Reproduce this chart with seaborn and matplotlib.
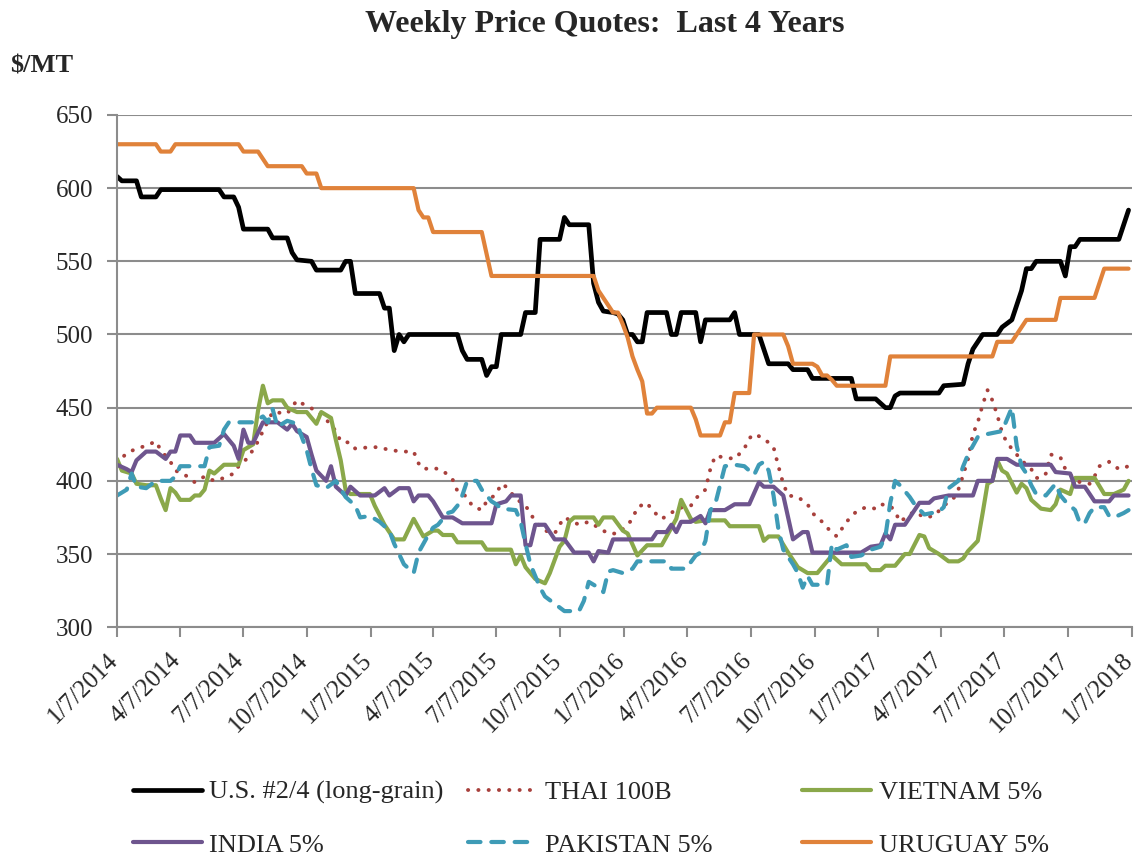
import matplotlib.pyplot as plt
import matplotlib.transforms as mtransforms
import numpy as np
import pandas as pd
import seaborn as sns

# weekly quotes, week 0 = 1/7/2014; only the weeks where the line bends are listed
start = pd.Timestamp("2014-01-07")

us_weeks = [0, 1, 4, 5, 8, 9, 21, 22, 24, 25, 26, 31, 32, 35, 36, 37, 40, 41, 46, 47, 48, 49,
            54, 55, 56, 57, 58, 59, 60, 70, 71, 72, 75, 76, 77, 78, 79, 83, 84, 86, 87, 91, 92,
            93, 97, 98, 99, 100, 102, 103, 104, 105, 106, 107, 108, 109, 113, 114, 115, 116,
            119, 120, 121, 126, 127, 128, 132, 133, 134, 138, 139, 142, 143, 151, 152, 156,
            157, 158, 159, 160, 161, 169, 170, 174, 175, 176, 177, 178, 181, 182, 184, 186,
            187, 188, 189, 194, 195, 196, 197, 198, 206, 207, 208]
us_price = [608, 605, 605, 594, 594, 599, 599, 594, 594, 587, 572, 572, 566, 566, 556, 551, 550,
            544, 544, 550, 550, 528, 528, 518, 518, 489, 500, 495, 500, 500, 489, 483, 483, 472,
            478, 478, 500, 500, 515, 515, 565, 565, 580, 575, 575, 535, 522, 516, 515, 514, 510,
            500, 500, 495, 495, 515, 515, 500, 500, 515, 515, 495, 510, 510, 515, 500, 500, 490,
            480, 480, 476, 476, 470, 470, 456, 456, 453, 450, 450, 458, 460, 460, 465, 466, 480,
            490, 495, 500, 500, 505, 510, 530, 545, 545, 550, 550, 540, 560, 560, 565, 565, 575,
            585]

thai_weeks = [0, 2, 4, 6, 8, 9, 11, 12, 14, 16, 18, 20, 22, 24, 25, 27, 29, 30, 32, 35, 37, 39,
              41, 43, 45, 46, 48, 49, 52, 54, 56, 59, 61, 62, 63, 65, 67, 69, 70, 72, 73, 75, 76,
              78, 79, 80, 82, 84, 85, 86, 88, 90, 91, 92, 95, 97, 98, 101, 103, 105, 106, 107,
              109, 110, 112, 114, 115, 118, 119, 121, 122, 123, 125, 127, 129, 130, 131, 133,
              135, 136, 137, 138, 140, 142, 143, 145, 146, 148, 149, 150, 152, 154, 156, 157,
              159, 160, 161, 163, 164, 166, 168, 170, 172, 173, 174, 175, 176, 177, 178, 179,
              180, 181, 182, 183, 185, 186, 188, 189, 190, 191, 192, 194, 195, 196, 198, 200,
              201, 202, 204, 206, 208]
thai_price = [412, 419, 422, 424, 427, 421, 413, 407, 404, 399, 403, 400, 402, 405, 410, 416, 427,
              434, 447, 446, 455, 451, 448, 442, 434, 427, 426, 422, 423, 423, 421, 420, 420, 412,
              408, 409, 407, 401, 393, 389, 383, 380, 386, 391, 398, 396, 388, 383, 378, 372, 366,
              364, 370, 375, 370, 372, 370, 364, 364, 370, 374, 382, 385, 380, 374, 378, 381, 383,
              388, 394, 408, 417, 416, 415, 422, 429, 432, 429, 423, 410, 398, 390, 389, 384, 378,
              372, 368, 362, 367, 372, 379, 382, 381, 384, 383, 379, 372, 377, 379, 375, 376, 383,
              388, 394, 404, 415, 432, 440, 452, 462, 455, 445, 433, 426, 418, 414, 408, 402, 402,
              405, 418, 416, 408, 404, 399, 398, 403, 410, 413, 408, 410]

vietnam_weeks = [0, 1, 3, 4, 6, 8, 9, 10, 11, 12, 13, 15, 16, 17, 18, 19, 20, 21, 22, 25, 26, 28,
                 29, 30, 31, 32, 34, 35, 37, 39, 41, 42, 44, 45, 46, 47, 48, 52, 53, 55, 56, 57,
                 59, 61, 63, 65, 66, 67, 69, 70, 75, 76, 81, 82, 83, 84, 86, 88, 89, 91, 92, 93,
                 94, 98, 99, 100, 102, 104, 105, 107, 109, 112, 113, 115, 116, 118, 119, 121, 125,
                 126, 132, 133, 134, 136, 138, 140, 142, 144, 145, 147, 149, 154, 155, 157, 158,
                 160, 162, 163, 165, 166, 167, 169, 171, 173, 174, 175, 177, 178, 179, 180, 181,
                 182, 183, 185, 186, 187, 188, 190, 192, 193, 194, 196, 197, 201, 203, 205, 207,
                 208]
vietnam_price = [415, 407, 405, 398, 397, 397, 388, 380, 395, 392, 387, 387, 390, 390, 394, 407,
                 405, 408, 411, 411, 421, 425, 448, 465, 453, 455, 455, 450, 447, 447, 439, 447,
                 443, 428, 414, 394, 391, 391, 383, 370, 365, 360, 360, 374, 362, 366, 366, 363,
                 363, 358, 358, 353, 353, 343, 349, 341, 333, 330, 337, 355, 359, 372, 375, 375,
                 370, 375, 375, 366, 364, 349, 356, 356, 362, 374, 387, 374, 372, 373, 373, 369,
                 369, 359, 362, 362, 351, 341, 337, 337, 341, 349, 343, 343, 339, 339, 342, 342,
                 350, 350, 363, 362, 354, 350, 345, 345, 347, 352, 359, 378, 398, 400, 414, 407,
                 405, 392, 398, 395, 387, 381, 380, 384, 394, 391, 402, 402, 391, 391, 394, 400]

india_weeks = [0, 2, 3, 4, 6, 8, 10, 11, 12, 13, 15, 16, 20, 22, 24, 25, 26, 27, 28, 30, 33, 35,
               36, 37, 39, 40, 41, 43, 44, 45, 47, 48, 50, 53, 55, 56, 58, 60, 61, 62, 64, 65,
               67, 69, 71, 77, 78, 80, 81, 83, 84, 85, 86, 88, 90, 92, 94, 97, 98, 99, 101, 102,
               110, 111, 113, 114, 115, 116, 118, 120, 121, 122, 125, 127, 130, 132, 133, 135,
               137, 138, 139, 141, 142, 143, 153, 155, 157, 158, 159, 160, 162, 164, 165, 167,
               168, 171, 176, 177, 180, 181, 183, 185, 192, 193, 196, 197, 199, 201, 204, 205,
               208]
india_price = [411, 408, 406, 414, 420, 420, 415, 420, 420, 431, 431, 426, 426, 432, 424, 415,
               435, 426, 426, 440, 440, 435, 439, 434, 430, 418, 407, 400, 410, 396, 390, 396,
               390, 390, 395, 390, 395, 395, 386, 390, 390, 386, 375, 375, 371, 371, 384, 386,
               390, 390, 356, 356, 370, 370, 360, 360, 351, 351, 345, 352, 351, 360, 360, 365,
               365, 370, 365, 372, 372, 376, 371, 380, 380, 384, 384, 399, 396, 396, 390, 375,
               360, 365, 365, 351, 351, 355, 356, 364, 360, 370, 370, 380, 385, 385, 388, 390,
               390, 400, 400, 415, 415, 411, 411, 406, 405, 396, 396, 386, 386, 390, 390]

pakistan_weeks = [0, 2, 3, 4, 6, 8, 11, 12, 13, 18, 19, 21, 22, 23, 28, 30, 31, 32, 33, 35, 37,
                  39, 40, 41, 43, 45, 47, 49, 50, 52, 54, 56, 57, 59, 61, 62, 64, 65, 66, 68, 69,
                  70, 71, 72, 74, 75, 77, 78, 79, 82, 83, 84, 85, 86, 87, 88, 90, 92, 95, 96, 97,
                  99, 100, 101, 102, 104, 106, 107, 113, 114, 117, 119, 120, 121, 122, 123, 124,
                  125, 127, 129, 131, 132, 133, 134, 135, 136, 137, 139, 140, 141, 142, 143, 146,
                  147, 148, 150, 151, 153, 155, 157, 158, 159, 160, 161, 163, 164, 166, 169, 170,
                  171, 173, 174, 175, 177, 179, 182, 184, 185, 186, 187, 188, 189, 191, 192, 193,
                  194, 195, 197, 198, 199, 200, 201, 203, 204, 205, 207, 208]
pakistan_price = [390, 394, 405, 396, 395, 400, 400, 403, 410, 410, 423, 424, 435, 440, 440, 444,
                  440, 449, 437, 441, 439, 421, 408, 397, 395, 400, 389, 383, 375, 376, 372, 366,
                  357, 343, 337, 351, 363, 368, 370, 378, 379, 383, 390, 400, 400, 394, 386, 384,
                  381, 380, 372, 357, 343, 335, 327, 321, 316, 311, 311, 318, 331, 327, 324, 338,
                  339, 337, 340, 345, 345, 340, 340, 349, 351, 359, 380, 384, 397, 410, 411, 410,
                  404, 411, 413, 407, 390, 367, 353, 343, 337, 327, 335, 329, 329, 357, 353, 356,
                  348, 349, 353, 355, 362, 385, 400, 397, 389, 384, 377, 379, 382, 395, 400, 410,
                  418, 430, 432, 434, 450, 424, 410, 405, 397, 391, 390, 394, 398, 390, 386, 380,
                  371, 371, 378, 382, 382, 376, 375, 378, 380]

uruguay_weeks = [0, 8, 9, 11, 12, 25, 26, 29, 30, 31, 38, 39, 41, 42, 61, 62, 63, 64, 65, 75, 76,
                 77, 98, 99, 100, 101, 102, 103, 104, 105, 106, 107, 108, 109, 110, 111, 118, 119,
                 120, 124, 125, 126, 127, 130, 131, 137, 138, 139, 143, 144, 145, 146, 147, 148,
                 158, 159, 180, 181, 184, 185, 186, 187, 193, 194, 201, 202, 203, 208]
uruguay_price = [630, 630, 625, 625, 630, 630, 625, 625, 620, 615, 615, 610, 610, 600, 600, 585,
                 580, 580, 570, 570, 555, 540, 540, 530, 525, 520, 515, 515, 507, 498, 485, 476,
                 468, 446, 446, 450, 450, 442, 431, 431, 440, 440, 460, 460, 500, 500, 492, 480,
                 480, 478, 472, 472, 469, 465, 465, 485, 485, 495, 495, 500, 505, 510, 510, 525,
                 525, 535, 545, 545]

tick_labels = ["1/7/2014", "4/7/2014", "7/7/2014", "10/7/2014", "1/7/2015", "4/7/2015",
               "7/7/2015", "10/7/2015", "1/7/2016", "4/7/2016", "7/7/2016", "10/7/2016",
               "1/7/2017", "4/7/2017", "7/7/2017", "10/7/2017", "1/7/2018"]

series = [
    ("U.S. #2/4 (long-grain)", us_weeks, us_price, "#000000", "-", 3.4),
    ("THAI 100B", thai_weeks, thai_price, "#A8403C", (0, (0.05, 2.6)), 2.8),
    ("VIETNAM 5%", vietnam_weeks, vietnam_price, "#8AA84A", "-", 3.0),
    ("INDIA 5%", india_weeks, india_price, "#6E558E", "-", 3.0),
    ("PAKISTAN 5%", pakistan_weeks, pakistan_price, "#3E9BB6", (0, (3.0, 2.6)), 3.0),
    ("URUGUAY 5%", uruguay_weeks, uruguay_price, "#E0823A", "-", 3.0),
]

sns.set_style("white")
plt.rcParams["font.family"] = ["Liberation Serif", "DejaVu Serif"]

fig = plt.figure(figsize=(11.36, 8.58), dpi=100)
ax = fig.add_axes([0.103, 0.269, 0.8935, 0.597])

for name, weeks, price, color, ls, lw in series:
    dates = start + pd.to_timedelta(np.array(weeks) * 7, unit="D")
    sns.lineplot(x=dates, y=price, ax=ax, color=color, linestyle=ls, linewidth=lw,
                 label=name, solid_capstyle="round", dash_capstyle="round",
                 solid_joinstyle="round")

ax.set_xlim(pd.Timestamp("2014-01-07"), pd.Timestamp("2018-01-07"))
ax.set_ylim(300, 650)
ax.set_yticks(np.arange(300, 651, 50))
ax.set_xticks(pd.to_datetime(tick_labels, format="%m/%d/%Y"))
ax.set_xticklabels(tick_labels, rotation=45, ha="right", va="bottom", rotation_mode="anchor")
ax.tick_params(axis="y", labelsize=18, length=7, width=1.5, color="#8c8c8c", pad=10, left=True)
ax.tick_params(axis="x", labelsize=18, length=7, width=1.5, color="#8c8c8c", pad=20, bottom=True)
# nudge the rotated date labels a little to the right, like the original
shift = mtransforms.ScaledTranslation(4 / 72, 0, fig.dpi_scale_trans)
for lab in ax.get_xticklabels():
    lab.set_transform(lab.get_transform() + shift)
ax.set_xlabel("")
ax.set_ylabel("")

ax.yaxis.grid(True, color="#8c8c8c", linewidth=1.5)
ax.set_axisbelow(True)
for side in ["top", "right"]:
    ax.spines[side].set_visible(False)
for side in ["left", "bottom"]:
    ax.spines[side].set_color("#8c8c8c")
    ax.spines[side].set_linewidth(1.5)

# three equal-width legend columns, as in the spreadsheet chart
handles, labels = ax.get_legend_handles_labels()
ax.legend_.remove()
col_x = [0.117, 0.412, 0.706]
for col, idx in enumerate([(0, 3), (1, 4), (2, 5)]):
    fig.legend([handles[i] for i in idx], [labels[i] for i in idx], ncol=1, loc="center left",
               bbox_to_anchor=(col_x[col], 0.046), frameon=False, fontsize=19,
               handlelength=2.6, handletextpad=0.3, labelspacing=1.1,
               borderpad=0, borderaxespad=0)

fig.text(0.532, 0.963, "Weekly Price Quotes:  Last 4 Years", ha="center", va="baseline",
         fontsize=23, fontweight="bold")
fig.text(0.009, 0.916, "$/MT", ha="left", va="baseline", fontsize=19, fontweight="bold")

fig.savefig("out.png", dpi=100)
